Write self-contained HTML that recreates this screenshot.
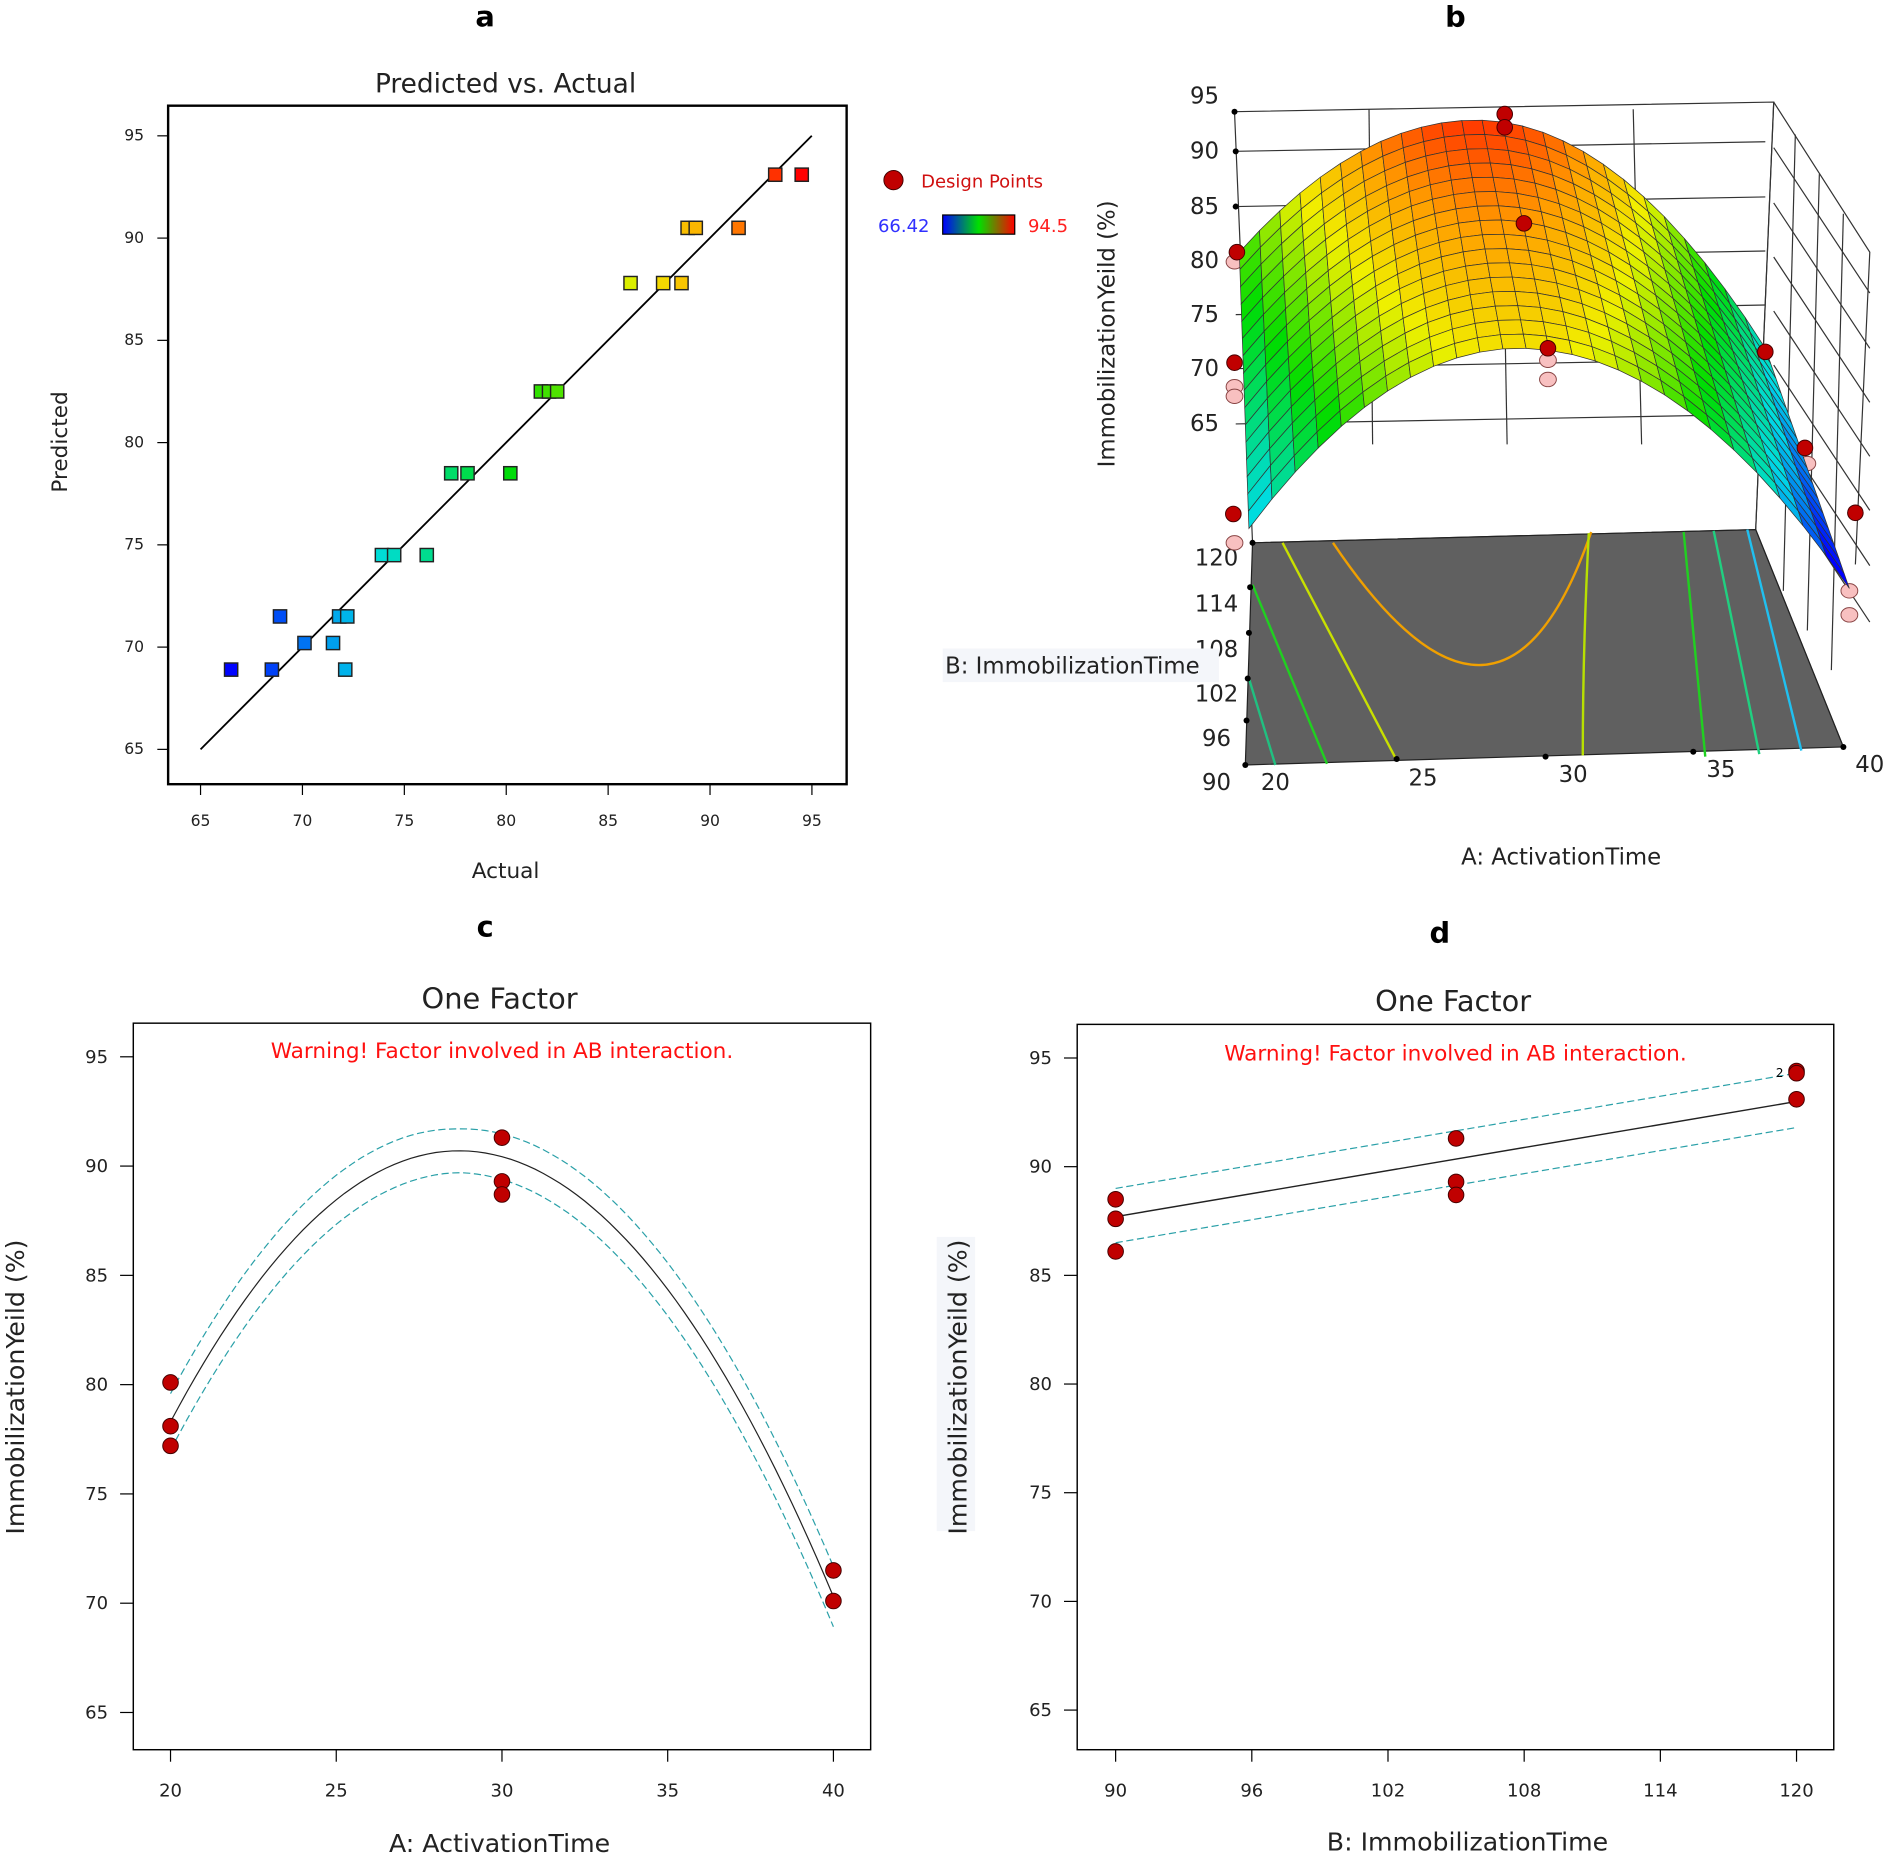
<!DOCTYPE html>
<html><head><meta charset="utf-8"><style>
html,body{margin:0;padding:0;background:#fff;}
svg{display:block;font-family:"DejaVu Sans","Liberation Sans",sans-serif;}
</style></head><body>
<svg id="s" width="1883" height="1856" viewBox="0 0 1568 1545.5" xmlns="http://www.w3.org/2000/svg">
<defs>
<linearGradient id="lg" x1="0" x2="1"><stop offset="0" stop-color="#0000ff"/><stop offset="0.5" stop-color="#00e000"/><stop offset="1" stop-color="#ff0000"/></linearGradient>
</defs>
<g id="g"></g>
</svg>
<script>
(function(){
const g=document.getElementById('g');let h='';
function T(x,y,t,o){o=o||{};h+=`<text x="${x}" y="${y}" font-size="${o.s||16}" fill="${o.c||'#222'}" text-anchor="${o.a||'middle'}" ${o.w?'font-weight="bold"':''} ${o.r?`transform="rotate(-90 ${x} ${y})"`:''}>${t}</text>`;}
function L(x1,y1,x2,y2,c,w,d){h+=`<line x1="${x1}" y1="${y1}" x2="${x2}" y2="${y2}" stroke="${c||'#000'}" stroke-width="${w||1}" ${d?`stroke-dasharray="${d}"`:''}/>`;}
function C(x,y,r,f){h+=`<circle cx="${x}" cy="${y}" r="${r||6}" fill="${f||'#c00000'}" stroke="#400" stroke-width="0.8"/>`;}
function cmap(t){t=Math.max(0,Math.min(1,t));const st=[[0,0,0,255],[0.25,0,220,230],[0.5,0,220,0],[0.72,240,240,0],[0.85,255,160,0],[1,255,0,0]];
for(let i=0;i<st.length-1;i++){if(t<=st[i+1][0]){const a=st[i],b=st[i+1],k=(t-a[0])/(b[0]-a[0]);return `rgb(${Math.round(a[1]+(b[1]-a[1])*k)},${Math.round(a[2]+(b[2]-a[2])*k)},${Math.round(a[3]+(b[3]-a[3])*k)})`;}}return 'red';}
// ---- panel a
T(404,22,'a',{s:24,w:1,c:'#000'});T(421,77,'Predicted vs. Actual',{s:22});
h+=`<rect x="140" y="88" width="565" height="565" fill="#fff" stroke="#000" stroke-width="2"/>`;
const ax=v=>167+(v-65)*16.97, ay=v=>624-(v-65)*17.03;
for(let v=65;v<=95;v+=5){L(ax(v),653,ax(v),662);T(ax(v),688,v,{s:13});L(131,ay(v),140,ay(v));T(120,ay(v)+4,v,{s:13,a:'end'});}
T(56,368,'Predicted',{s:18,r:1});T(421,731,'Actual',{s:18});
L(167,624,676,113,'#000',1.5);
const pa=[[66.5,68.9],[68.5,68.9],[72.1,68.9],[68.9,71.5],[70.1,70.2],[71.5,70.2],[71.8,71.5],[72.2,71.5],[73.9,74.5],[74.5,74.5],[76.1,74.5],[77.3,78.5],[78.1,78.5],[80.2,78.5],[81.7,82.5],[82.1,82.5],[82.5,82.5],[86.1,87.8],[87.7,87.8],[88.6,87.8],[88.9,90.5],[89.3,90.5],[91.4,90.5],[93.2,93.1],[94.5,93.1]];
pa.forEach(p=>{h+=`<rect x="${ax(p[0])-5.5}" y="${ay(p[1])-5.5}" width="11" height="11" fill="${cmap((p[0]-66.42)/28.08)}" stroke="#222" stroke-width="1.2"/>`;});
C(744,150,8);T(767,156,'Design Points',{s:15,c:'#d01010',a:'start'});
T(774,193,'66.42',{s:15,c:'#3030ff',a:'end'});h+=`<rect x="785" y="179" width="60" height="16" fill="url(#lg)" stroke="#000"/>`;T(856,193,'94.5',{s:15,c:'#ff2020',a:'start'});
// ---- panel b
T(1212,22,'b',{s:24,w:1,c:'#000'});
h+=`<polygon points="1028,93 1477,85 1462,441 1043,452" fill="#fff" stroke="#333"/>`;
[1140,1250,1360].forEach((x,i)=>L(x,91,x+[3,5,7][i],370,'#333'));
[126,172,217,262,307,353].forEach(y=>L(1029,y,1470,y-8,'#333'));
h+=`<polyline points="1477,85 1557,210 1545,470" fill="none" stroke="#333"/>`;
[[1495,112],[1515,145],[1535,178]].forEach(p=>L(p[0],p[1],p[0]-10,p[1]+380,'#333'));
[126,172,217,262,307,353,400].forEach(y=>L(1477,y-3,1557,y+118,'#333'));
L(1462,441,1535,622,'#333');L(1477,85,1462,441,'#333');
h+=`<polygon points="1043,452 1462,441 1535,622 1037,637" fill="#606060" stroke="#222"/>`;
const cp=(c,p)=>{h+=`<path d="${p}" fill="none" stroke="${c}" stroke-width="2"/>`;};
cp('#f0a000','M1110,452 Q1250,660 1325,443');cp('#c8e000','M1068,452 L1163,633');cp('#20d020','M1043,487 L1105,636');cp('#20c080','M1040,565 L1062,637');
cp('#b8e000','M1323,444 Q1318,540 1318,629');cp('#20d020','M1402,443 L1420,630');cp('#20d080','M1427,442 L1465,628');cp('#20c0f0','M1455,441 L1500,625');
[[1043,452],[1041,489],[1040,527],[1039,565],[1038,600],[1037,637],[1163,632],[1287,630],[1410,626],[1535,622]].forEach(p=>{h+=`<circle cx="${p[0]}" cy="${p[1]}" r="2.5"/>`;});
[[1028,93],[1029,126],[1029,172],[1029,217]].forEach(p=>{h+=`<circle cx="${p[0]}" cy="${p[1]}" r="2.5"/>`;});
[[95,80],[90,126],[85,172],[80,217],[75,262],[70,307],[65,353]].forEach(p=>T(1003,p[1]+6,p[0],{s:19}));
[[120,465],[114,503],[108,541],[102,578],[96,615],[90,652]].forEach(p=>T(1013,p[1]+6,p[0],{s:19}));
[[20,1062,658],[25,1185,654],[30,1310,651],[35,1433,647],[40,1557,643]].forEach(p=>T(p[1],p[2],p[0],{s:19}));
h+=`<rect x="785" y="540" width="230" height="28" fill="#f4f6fa"/>`;T(787,561,'B: ImmobilizationTime',{s:19,a:'start'});
T(1300,720,'A: ActivationTime',{s:19});T(928,278,'ImmobilizationYeild (%)',{s:19,r:1});
[[1028,218],[1028,322],[1028,330],[1028,452],[1289,300],[1289,316],[1505,386],[1540,492],[1540,512]].forEach(p=>{h+=`<ellipse cx="${p[0]}" cy="${p[1]}" rx="7" ry="6" fill="#f8c0c0" stroke="#844" stroke-width="0.8"/>`;});
const NU=26,NV=16;
function sTop(u){const d=u-0.45;return [1032+u*438,100+(d<0?543:628)*d*d];}
function sBot(u){const d=u-0.45;return [1040+u*500,290+(d<0?741:661)*d*d];}
function sVal(u,v){const d=u-0.45;const tv=92-(d<0?59:66)*d*d, bv=86-79*d*d;return tv+(bv-tv)*v;}
function sP(u,v){const a=sTop(u),b=sBot(u);return [a[0]+(b[0]-a[0])*v,a[1]+(b[1]-a[1])*v];}
for(let i=0;i<NU;i++)for(let j=0;j<NV;j++){const u0=i/NU,u1=(i+1)/NU,v0=j/NV,v1=(j+1)/NV;
const q=[sP(u0,v0),sP(u1,v0),sP(u1,v1),sP(u0,v1)];const c=cmap((sVal((u0+u1)/2,(v0+v1)/2)-64)/29.5);
h+=`<polygon points="${q.map(p=>p[0].toFixed(1)+','+p[1].toFixed(1)).join(' ')}" fill="${c}" stroke="#333" stroke-width="0.6"/>`;}
[[1030,210],[1028,302],[1027,428],[1253,95],[1253,106],[1269,186],[1289,290],[1470,293],[1503,373],[1545,427]].forEach(p=>C(p[0],p[1],6.5));
// ---- panel c
T(404,780,'c',{s:24,w:1,c:'#000'});T(416,840,'One Factor',{s:24});
h+=`<rect x="111" y="852" width="614" height="605" fill="#fff" stroke="#000" stroke-width="1.2"/>`;
const cx=a=>142+(a-20)*27.6, cy=v=>880+(95-v)*18.2;
for(let v=65;v<=95;v+=5){L(100,cy(v),111,cy(v));T(90,cy(v)+5,v,{s:15,a:'end'});}
for(let a=20;a<=40;a+=5){L(cx(a),1457,cx(a),1467);T(cx(a),1496,a,{s:15});}
T(418,881,'Warning! Factor involved in AB interaction.',{s:18,c:'#ff1010'});
T(416,1542,'A: ActivationTime',{s:21});T(20,1155,'ImmobilizationYeild (%)',{s:21,r:1});
function curve(off){let s='';for(let a=20;a<=40.001;a+=0.25){const k=a<28.7?(90.7-78.3)/Math.pow(8.7,2):(90.7-70.3)/Math.pow(11.3,2);let v=90.7-k*Math.pow(a-28.7,2);const o=off*(1+Math.abs(a-28.7)/30);s+=(s?'L':'M')+cx(a).toFixed(1)+','+cy(v+o).toFixed(1);}return s;}
h+=`<path d="${curve(0)}" fill="none" stroke="#222" stroke-width="1"/>`;
h+=`<path d="${curve(1)}" fill="none" stroke="#2aa0a8" stroke-width="1" stroke-dasharray="6,3"/>`;
h+=`<path d="${curve(-1)}" fill="none" stroke="#2aa0a8" stroke-width="1" stroke-dasharray="6,3"/>`;
[[20,80.1],[20,78.1],[20,77.2],[30,91.3],[30,89.3],[30,88.7],[40,71.5],[40,70.1]].forEach(p=>C(cx(p[0]),cy(p[1]),6.5));
// ---- panel d
T(1199,785,'d',{s:24,w:1,c:'#000'});T(1210,842,'One Factor',{s:24});
h+=`<rect x="897" y="853" width="630" height="604" fill="#fff" stroke="#000" stroke-width="1.2"/>`;
const dx=b=>929+(b-90)*18.9, dy=v=>881+(95-v)*18.1;
for(let v=65;v<=95;v+=5){L(886,dy(v),897,dy(v));T(876,dy(v)+5,v,{s:15,a:'end'});}
for(let b=90;b<=120;b+=6){L(dx(b),1457,dx(b),1467);T(dx(b),1496,b,{s:15});}
T(1212,883,'Warning! Factor involved in AB interaction.',{s:18,c:'#ff1010'});
T(1222,1541,'B: ImmobilizationTime',{s:21});
h+=`<rect x="780" y="1030" width="32" height="245" fill="#f4f6fa"/>`;T(805,1155,'ImmobilizationYeild (%)',{s:21,r:1});
L(dx(90),dy(87.7),dx(120),dy(93.0),'#222',1.2);
L(dx(90),dy(89.0),dx(120),dy(94.3),'#2aa0a8',1,'6,3');L(dx(90),dy(86.5),dx(120),dy(91.8),'#2aa0a8',1,'6,3');
[[90,88.5],[90,87.6],[90,86.1],[105,91.3],[105,89.3],[105,88.7],[120,94.4],[120,94.3],[120,93.1]].forEach(p=>C(dx(p[0]),dy(p[1]),6.5));
T(1482,897,'2',{s:10,c:'#000'});
g.innerHTML=h;
})();
</script>
</body></html>
